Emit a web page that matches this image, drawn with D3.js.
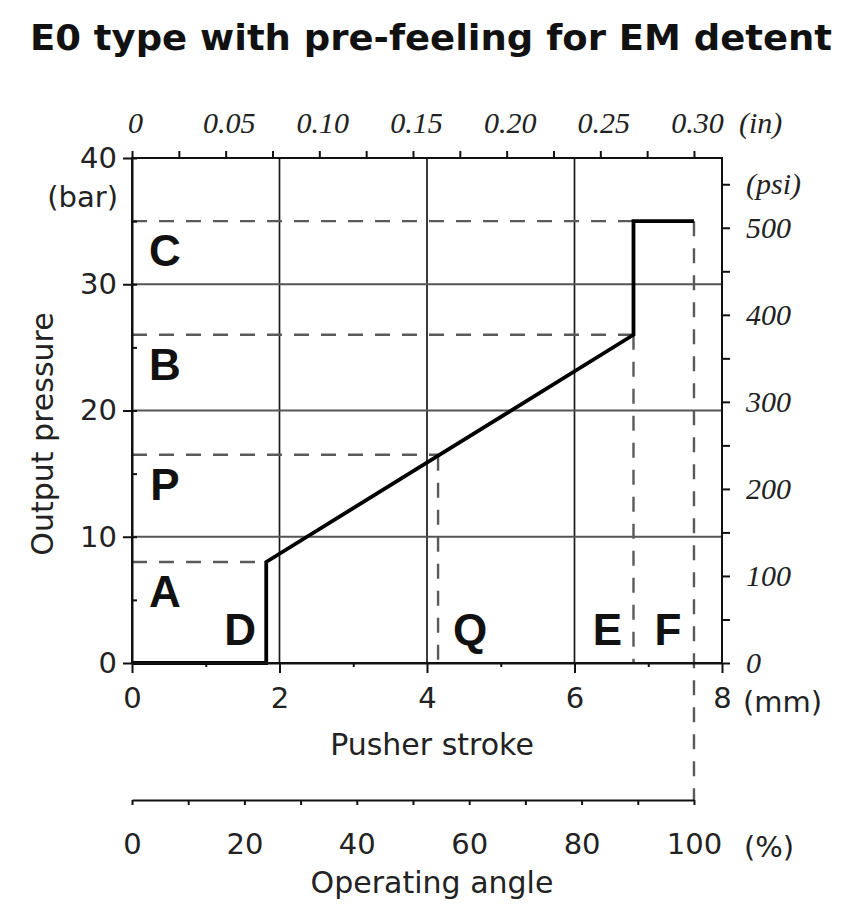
<!DOCTYPE html>
<html>
<head>
<meta charset="utf-8">
<script src="https://cdn.jsdelivr.net/npm/d3@7"></script>
<style>
  html, body { margin: 0; padding: 0; background: #fff; }
  svg { display: block; }
  .sans { font-family: "DejaVu Sans", Verdana, sans-serif; fill: #222; }
  .ital { font-family: "Liberation Serif", "Times New Roman", serif; font-style: italic; fill: #222; }
  .zone { font-family: "Liberation Sans", Arial, sans-serif; font-weight: bold; fill: #111; }
  .axis path, .axis line { stroke: #111; stroke-width: 2; }
</style>
</head>
<body>
<svg id="chart" width="851" height="914"></svg>
<script>
// Characteristic of the E0 type valve with pre-feeling for the EM detent
const strokeMm    = [0, 1.82, 1.82, 6.8, 6.8, 7.62];
const pressureBar = [0, 0,    8,    26,  35,  35];

// Pressure zones (horizontal dashed levels) and stroke points (vertical dashed)
const zoneNames     = ["A", "P", "B", "C"];
const zoneLevelsBar = [8, 16.5, 26, 35];
const zoneEndsMm    = [1.82, 4.15, 6.8, 6.8];

const pointNames    = ["D", "Q", "E", "F"];
const pointStrokeMm = [1.82, 4.15, 6.8, 7.62];
const pointTopBar   = [8, 16.42, 26, 35];

// Tick values
const mmTicks     = [0, 2, 4, 6, 8];
const mmMinor     = [1, 3, 5, 7];
const barTicks    = [0, 10, 20, 30, 40];
const barMinor    = [5, 15, 25, 35];
const inchTicks   = [0, 0.025, 0.05, 0.075, 0.10, 0.125, 0.15, 0.175, 0.20, 0.225, 0.25, 0.275, 0.30];
const inchLabels  = [0, 0.05, 0.10, 0.15, 0.20, 0.25, 0.30];
const psiTicks    = [0, 50, 100, 150, 200, 250, 300, 350, 400, 450, 500, 550];
const psiLabels   = [0, 100, 200, 300, 400, 500];
const angleTicks  = [0, 10, 20, 30, 40, 50, 60, 70, 80, 90, 100];
const angleLabels = [0, 20, 40, 60, 80, 100];
const fullStrokeMm = 7.62;

const svg = d3.select("#chart");
const L = 132, R = 722, T = 158, B = 663, angleAxisY = 800;

const x = d3.scaleLinear().domain([0, 8]).range([L, R]);
const y = d3.scaleLinear().domain([0, 40]).range([B, T]);
const xIn = d3.scaleLinear().domain([0, 8 / 25.4]).range([L, R]);
const yPsi = d3.scaleLinear().domain([0, 40 * 14.5038]).range([B, T]);
const xAngle = d3.scaleLinear().domain([0, 100]).range([x(0), x(fullStrokeMm)]);

// Title
svg.append("text")
  .attr("x", 431).attr("y", 50)
  .attr("text-anchor", "middle")
  .attr("class", "sans")
  .style("font-weight", "bold").style("font-size", "36px").style("fill", "#111")
  .attr("textLength", 802).attr("lengthAdjust", "spacingAndGlyphs")
  .text("E0 type with pre-feeling for EM detent");

// Grid
const grid = svg.append("g");
grid.selectAll("line.v").data([2, 4, 6]).join("line")
  .attr("x1", d => x(d)).attr("x2", d => x(d))
  .attr("y1", T).attr("y2", B)
  .attr("stroke", "#1a1a1a").attr("stroke-width", 1.7);
grid.selectAll("line.h").data([10, 20, 30]).join("line")
  .attr("x1", L).attr("x2", R)
  .attr("y1", d => y(d)).attr("y2", d => y(d))
  .attr("stroke", "#555").attr("stroke-width", 2);

// Dashed reference lines
const dash = svg.append("g")
  .attr("stroke", "#5a5a5a").attr("stroke-width", 2.4)
  .attr("stroke-dasharray", "15,12").attr("fill", "none");
zoneLevelsBar.forEach((lvl, i) => {
  dash.append("line")
    .attr("x1", x(0)).attr("x2", x(zoneEndsMm[i]))
    .attr("y1", y(lvl)).attr("y2", y(lvl));
});
pointStrokeMm.forEach((mm, i) => {
  if (pointNames[i] === "D") return; // drawn by the characteristic itself
  const bottom = pointNames[i] === "F" ? angleAxisY : y(0);
  dash.append("line")
    .attr("x1", x(mm)).attr("x2", x(mm))
    .attr("y1", y(pointTopBar[i])).attr("y2", bottom);
});

// Characteristic line
const pts = strokeMm.map((s, i) => [s, pressureBar[i]]);
svg.append("path")
  .datum(pts)
  .attr("d", d3.line().x(d => x(d[0])).y(d => y(d[1])))
  .attr("fill", "none").attr("stroke", "#000")
  .attr("stroke-width", 3.8).attr("stroke-linejoin", "miter");

// Plot frame
svg.append("rect")
  .attr("x", L).attr("y", T).attr("width", R - L).attr("height", B - T)
  .attr("fill", "none").attr("stroke", "#111").attr("stroke-width", 2);

// Left axis (bar)
const leftAx = svg.append("g").attr("class", "axis").attr("transform", `translate(${L},0)`)
  .call(d3.axisLeft(y).tickValues(barTicks).tickSize(9).tickPadding(6).tickSizeOuter(0));
leftAx.selectAll("text").attr("class", "sans").style("font-size", "29px");
svg.append("g").attr("class", "axis").attr("transform", `translate(${L},0)`)
  .call(d3.axisRight(y).tickValues(barTicks.concat(barMinor)).tickSize(5).tickFormat("").tickSizeOuter(0))
  .select(".domain").remove();
svg.append("text").attr("class", "sans").style("font-size", "29px")
  .attr("x", 118).attr("y", 207).attr("text-anchor", "end").text("(bar)");
svg.append("text").attr("class", "sans").style("font-size", "30px")
  .attr("transform", "translate(53,434) rotate(-90)")
  .attr("text-anchor", "middle").text("Output pressure");

// Bottom axis (mm)
const botAx = svg.append("g").attr("class", "axis").attr("transform", `translate(0,${B})`)
  .call(d3.axisBottom(x).tickValues(mmTicks).tickSize(10).tickPadding(14).tickSizeOuter(0));
botAx.selectAll("text").attr("class", "sans").style("font-size", "29px");
svg.append("g").attr("class", "axis").attr("transform", `translate(0,${B})`)
  .call(d3.axisBottom(x).tickValues(mmMinor).tickSize(4).tickFormat("").tickSizeOuter(0))
  .select(".domain").remove();
svg.append("text").attr("class", "sans").style("font-size", "29px")
  .attr("x", 743).attr("y", 712).text("(mm)");
svg.append("text").attr("class", "sans").style("font-size", "30px")
  .attr("x", 432).attr("y", 755).attr("text-anchor", "middle").text("Pusher stroke");

// Top axis (inch)
const topAx = svg.append("g").attr("class", "axis").attr("transform", `translate(0,${T})`)
  .call(d3.axisTop(xIn).tickValues(inchTicks).tickSize(7).tickPadding(18).tickSizeOuter(0)
    .tickFormat(d => inchLabels.some(v => Math.abs(v - d) < 1e-9) ? (d === 0 ? "0" : d3.format(".2f")(d)) : ""));
topAx.select(".domain").remove();
topAx.selectAll("text").attr("class", "ital").style("font-size", "30px").attr("dx", "3");
svg.append("text").attr("class", "ital").style("font-size", "30px")
  .attr("x", 739).attr("y", 133).text("(in)");

// Right axis (psi)
const rightAx = svg.append("g").attr("class", "axis").attr("transform", `translate(${R},0)`)
  .call(d3.axisRight(yPsi).tickValues(psiTicks).tickSize(8).tickPadding(16).tickSizeOuter(0)
    .tickFormat(d => psiLabels.includes(d) ? String(d) : (d === 550 ? "(psi)" : "")));
rightAx.select(".domain").remove();
rightAx.selectAll("text").attr("class", "ital").style("font-size", "30px");

// Operating angle axis (%)
const angAx = svg.append("g").attr("class", "axis").attr("transform", `translate(0,${angleAxisY})`)
  .call(d3.axisBottom(xAngle).tickValues(angleTicks).tickSize(5).tickPadding(28).tickSizeOuter(0)
    .tickFormat(d => angleLabels.includes(d) ? String(d) : ""));
angAx.selectAll("text").attr("class", "sans").style("font-size", "29px");
svg.append("text").attr("class", "sans").style("font-size", "29px")
  .attr("x", 744).attr("y", 857).text("(%)");
svg.append("text").attr("class", "sans").style("font-size", "30px")
  .attr("x", 432).attr("y", 893).attr("text-anchor", "middle").text("Operating angle");

// Zone letters
zoneNames.forEach((n, i) => {
  svg.append("text").attr("class", "zone").style("font-size", "44px")
    .attr("x", 165).attr("y", y(zoneLevelsBar[i]) + 29)
    .attr("dy", "0.36em").attr("text-anchor", "middle").text(n);
});
pointNames.forEach((n, i) => {
  const offset = n === "Q" ? 32 : -26;
  svg.append("text").attr("class", "zone").style("font-size", "44px")
    .attr("x", x(pointStrokeMm[i]) + offset).attr("y", 645)
    .attr("text-anchor", "middle").text(n);
});
</script>
</body>
</html>
